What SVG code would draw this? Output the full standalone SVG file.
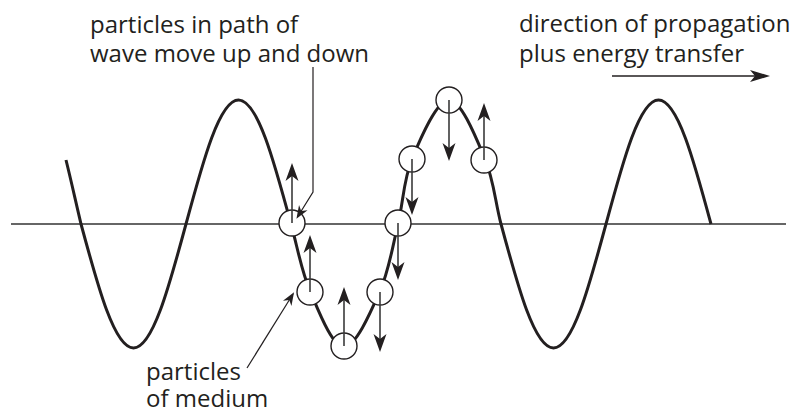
<svg xmlns="http://www.w3.org/2000/svg" width="798" height="413" viewBox="0 0 798 413">
<defs>
<style>
.lbl{font-family:"Open Sans","Noto Sans",sans-serif;font-size:24px;fill:#231f20}
.wave{fill:none;stroke:#231f20;stroke-width:3}
.axis{stroke:#333;stroke-width:1.5;fill:none}
.p{fill:#fff;stroke:#231f20;stroke-width:1.4}
.v{stroke:#3a3a3a;stroke-width:1.6;fill:none;marker-end:url(#ah)}
.lead{stroke:#231f20;stroke-width:1.2;fill:none;marker-end:url(#sh)}
</style>
<marker id="ah" markerUnits="userSpaceOnUse" markerWidth="26" markerHeight="16" viewBox="-20 -8 26 16" refX="-4" refY="0" orient="auto">
<path d="M0,0 L-18,-6.5 L-13,0 L-18,6.5 Z" fill="#231f20"/>
</marker>
<marker id="sh" markerUnits="userSpaceOnUse" markerWidth="20" markerHeight="12" viewBox="-14 -6 20 12" refX="-2" refY="0" orient="auto">
<path d="M0,0 L-13,-5 L-9,0 L-13,5 Z" fill="#231f20"/>
</marker>
<marker id="bh" markerUnits="userSpaceOnUse" markerWidth="28" markerHeight="16" viewBox="-22 -8 28 16" refX="-3" refY="0" orient="auto">
<path d="M0,0 L-20,-6 L-15,0 L-20,6 Z" fill="#231f20"/>
</marker>
</defs>
<rect width="798" height="413" fill="#fff"/>
<g id="axis"><line class="axis" x1="11" y1="224" x2="786" y2="224"/></g>
<g id="wave">
<path class="wave" d="M66,160 C71,180 76,203 81,224 c17.12,63.52 33.5,124 52.5,124 c19,0 35.38,-60.48 52.5,-124 c17.12,-63.52 33.5,-124 52.5,-124 c19,0 35.38,60.48 52.5,124 C297.3,246.3 301.2,270.5 310,291 C318.8,311.5 332.3,347 344,347 C355.7,347 371,311.5 380,291 C389,270.5 392.7,246 398,224 C403.3,202 403.5,179.7 412,159 C420.5,138.3 436.8,100 449,100 C461.2,100 476.3,138.3 485,159 C493.7,179.7 495.2,202 501,224 c17.12,63.52 33.5,124 52.5,124 c19,0 35.38,-60.48 52.5,-124 c17.12,-63.52 33.5,-124 52.5,-124 c19,0 35.38,60.48 52.5,124"/>
</g>
<g id="particle1"><circle class="p" cx="292" cy="223" r="13"/></g>
<g id="particle2"><circle class="p" cx="310" cy="292" r="13"/></g>
<g id="particle3"><circle class="p" cx="344" cy="346" r="13"/></g>
<g id="particle4"><circle class="p" cx="380" cy="292" r="13"/></g>
<g id="particle5"><circle class="p" cx="398" cy="223" r="13"/></g>
<g id="particle6"><circle class="p" cx="412" cy="159" r="13"/></g>
<g id="particle7"><circle class="p" cx="449" cy="100" r="13"/></g>
<g id="particle8"><circle class="p" cx="484" cy="160" r="13"/></g>
<g id="connectors">
<line class="v" x1="292" y1="223" x2="292" y2="167"/>
<line class="v" x1="310" y1="292" x2="310" y2="239"/>
<line class="v" x1="344" y1="346" x2="344" y2="291"/>
<line class="v" x1="380" y1="292" x2="380" y2="348"/>
<line class="v" x1="398" y1="223" x2="398" y2="276"/>
<line class="v" x1="412" y1="159" x2="412" y2="211"/>
<line class="v" x1="449" y1="100" x2="449" y2="157"/>
<line class="v" x1="484" y1="160" x2="484" y2="107"/>
<polyline class="lead" points="313,67 313,192 297.5,217"/>
<line class="lead" x1="247" y1="368" x2="293" y2="294"/>
<line stroke="#231f20" stroke-width="1.4" x1="612" y1="76" x2="767" y2="76" marker-end="url(#bh)"/>
</g>
<g id="label-top">
<text class="lbl" x="90" y="33">particles in path of</text>
<text class="lbl" x="90" y="62">wave move up and down</text>
</g>
<g id="label-direction">
<text class="lbl" x="519" y="32">direction of propagation</text>
<text class="lbl" x="519" y="62">plus energy transfer</text>
</g>
<g id="label-medium">
<text class="lbl" x="146" y="380">particles</text>
<text class="lbl" x="146" y="407">of medium</text>
</g>
</svg>
